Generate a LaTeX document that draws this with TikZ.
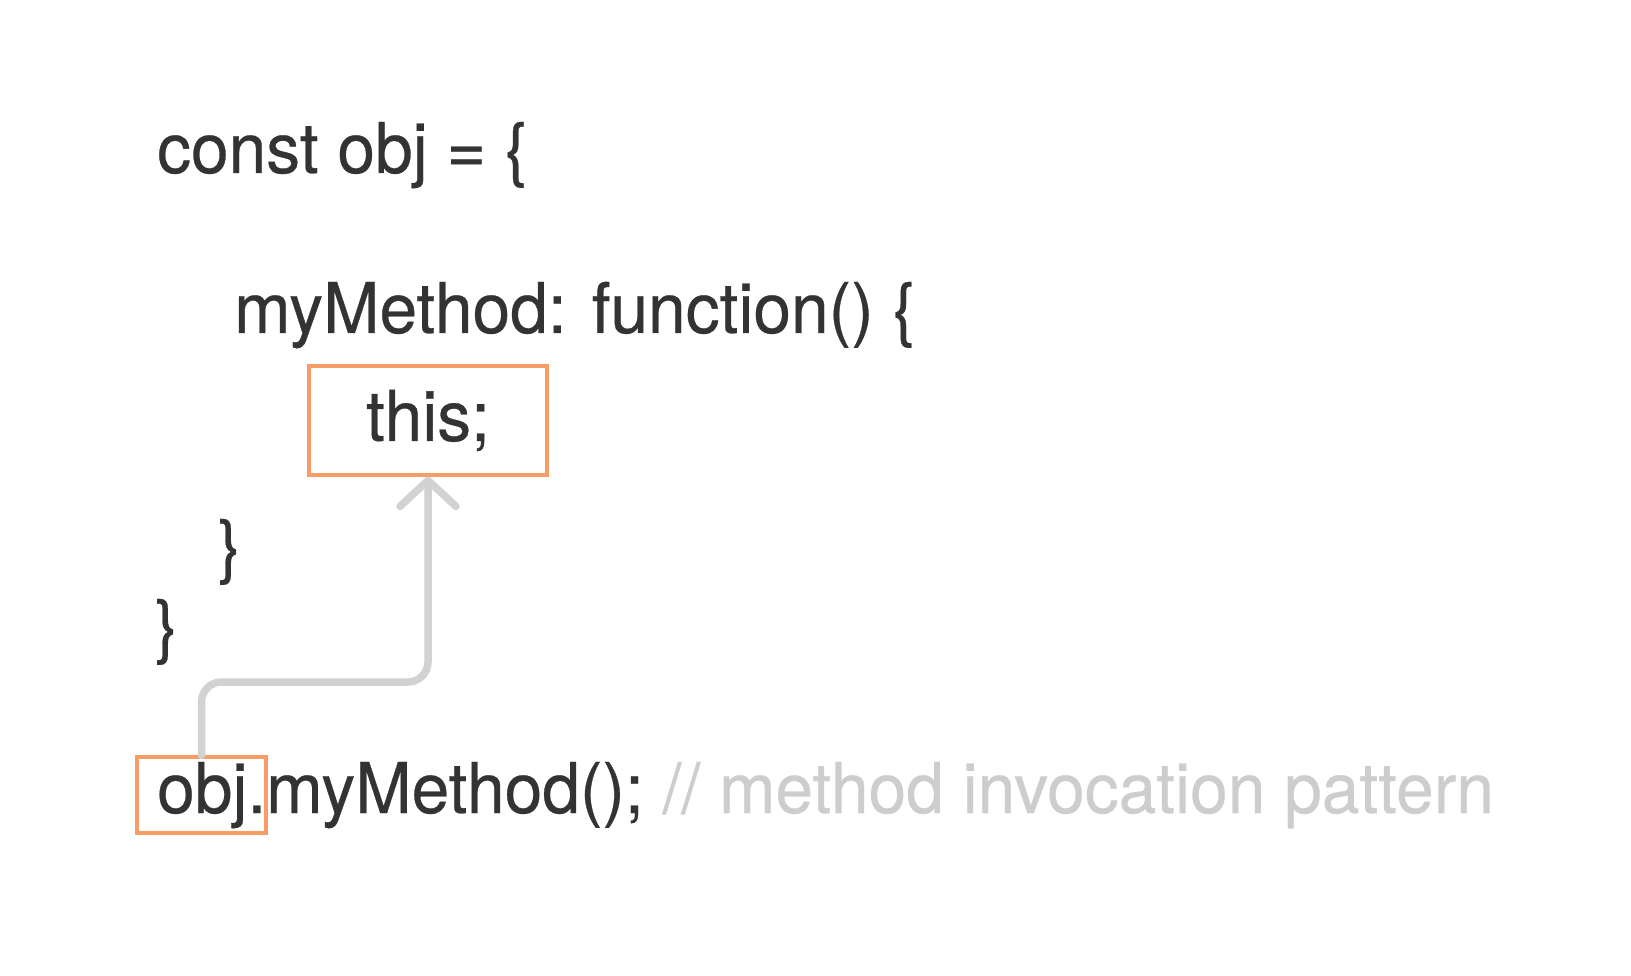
\documentclass[tikz,border=0pt]{standalone}
\usepackage{fontspec}
\setmainfont{TeX Gyre Heros}[FakeStretch=0.967, FakeBold=0.4]
\usetikzlibrary{arrows.meta}
\definecolor{codetxt}{RGB}{51,51,51}
\definecolor{cmt}{RGB}{205,205,205}
\definecolor{hlorange}{RGB}{247,157,101}
\definecolor{arrowgray}{RGB}{210,210,210}
\tikzset{
  code/.style={anchor=base west, inner sep=0pt, text=codetxt, font=\fontsize{70}{84}\selectfont},
  hlbox/.style={draw=hlorange, line width=3.3pt, inner sep=0pt},
  link/.style={draw=arrowgray, line width=7.5pt, line cap=round, rounded corners=20pt}
}
\begin{document}
\begin{tikzpicture}[x=1pt,y=-1pt]
\useasboundingbox[fill=white] (0,0) rectangle (1631,976);
\node[code] (l1) at (157,173) {const obj = \{};
\node[code] (l2) at (234,333) {myMethod: function() \{};
\node[hlbox, minimum width=238pt, minimum height=109pt, text=codetxt, font=\fontsize{70}{84}\selectfont] (thisbox) at (428,420.5) {this;};
\node[code] (l4) at (218,570) {\}};
\node[code] (l5) at (155,650) {\}};
\node[hlbox, minimum width=129pt, minimum height=76pt] (objbox) at (201.5,795) {};
\node[code] (l6) at (157,813) {obj.myMethod(); \textcolor{cmt}{// method invocation pattern}};
\draw[link, -{Straight Barb[length=26pt,width=56pt,round]}] (objbox.north) -- (objbox.north |- 0,682) -- (thisbox.south |- 0,682) -- (thisbox.south);
\end{tikzpicture}
\end{document}
